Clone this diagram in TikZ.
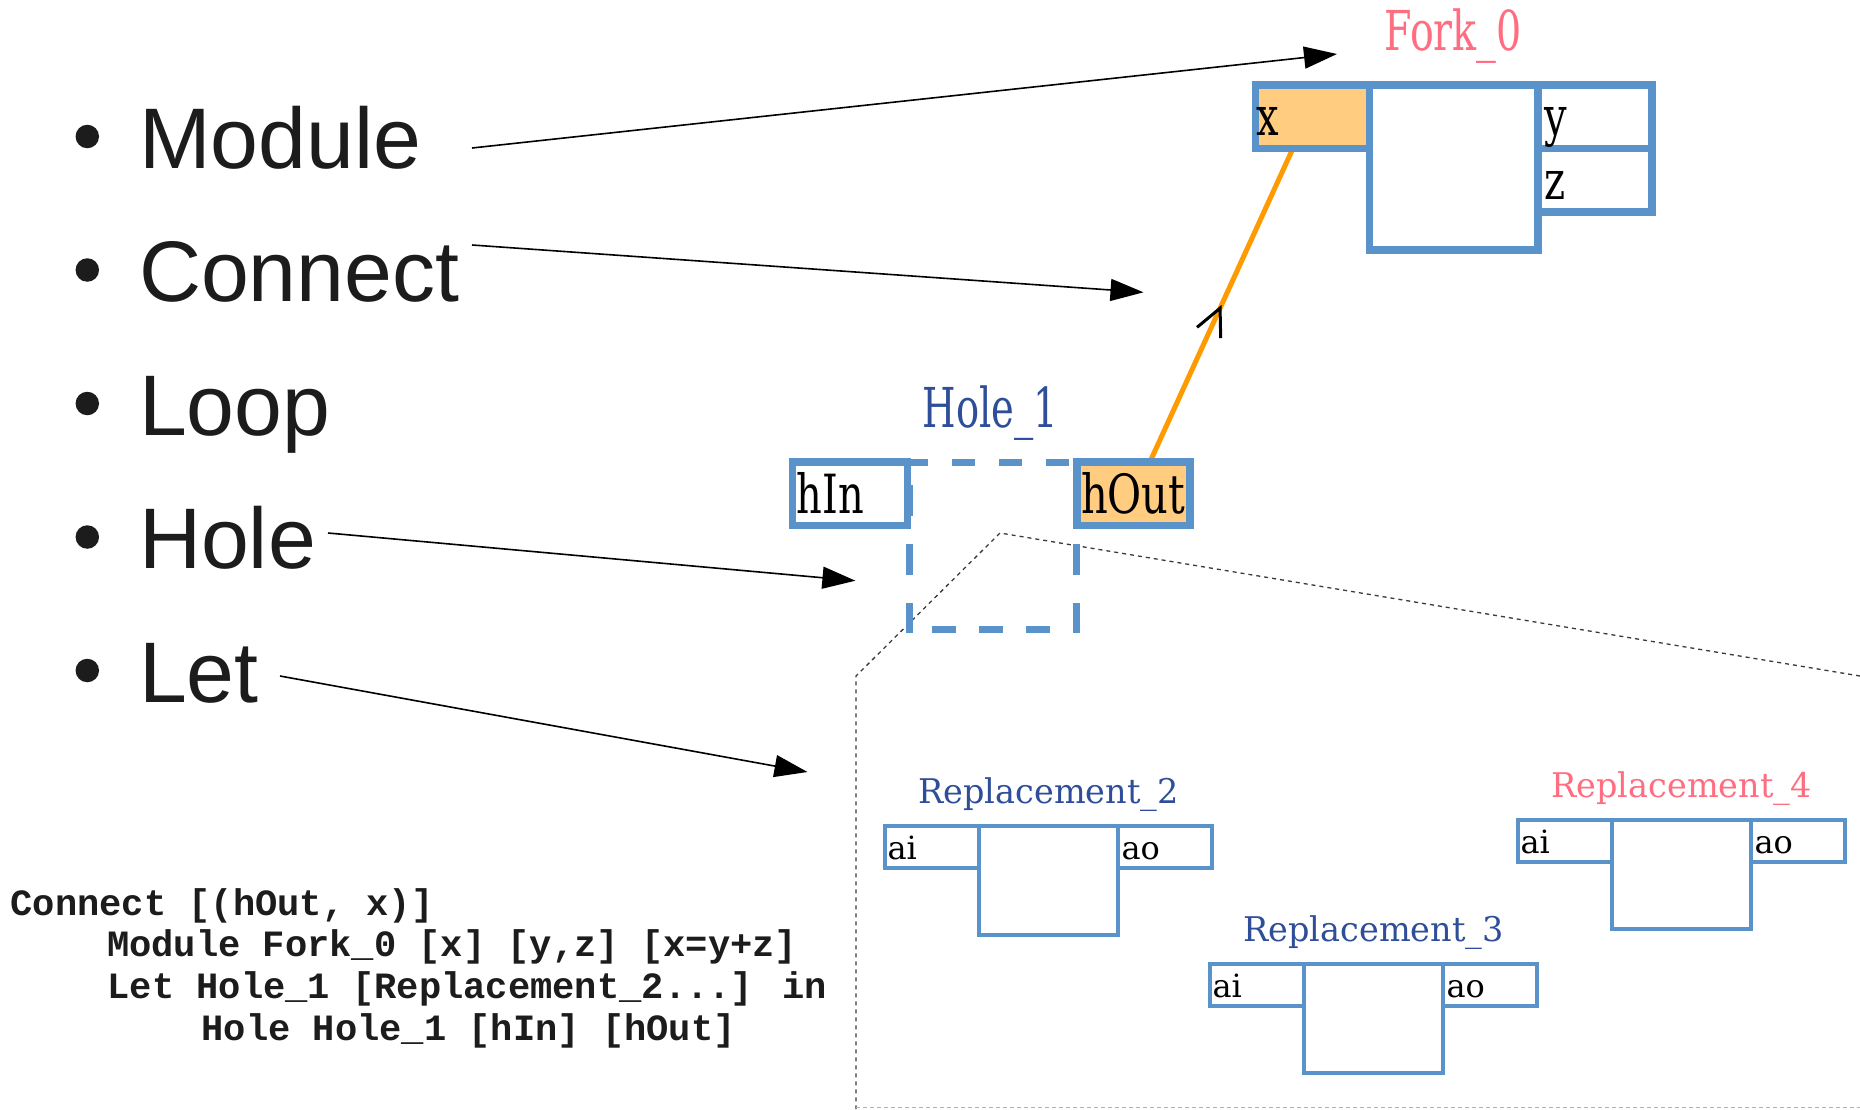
\documentclass[tikz,border=0pt]{standalone}
\usepackage{fontspec}
\usetikzlibrary{arrows.meta,decorations.markings}
\newfontfamily\bulletfont{Liberation Sans}
\newfontfamily\labelfont{DejaVu Serif}
\newfontfamily\codefont{Liberation Mono}

\definecolor{portblue}{HTML}{5A92CA}
\definecolor{portfill}{HTML}{FFCC80}
\definecolor{wirecol}{HTML}{FF9A00}
\definecolor{titlepink}{HTML}{FF6E80}
\definecolor{titlenavy}{HTML}{2E4E9A}
\definecolor{ink}{HTML}{1C1C1C}
\definecolor{zoomcol}{HTML}{3A3A3A}

\pgfdeclarelayer{background}
\pgfsetlayers{background,main}

\tikzset{
  pics/replacement/.style 2 args={code={
    \node[rport, anchor=north west] (-ai) at (0,0) {};
    \node[rbody, anchor=north west] (-body) at (-ai.north east) {};
    \node[rport, anchor=north west] (-ao) at (-body.north east) {};
    \node[rportlabel] (-ailabel) at ([shift={(2.5pt,8.5pt)}]-ai.south west) {ai};
    \node[rportlabel] (-aolabel) at ([shift={(3.5pt,8.5pt)}]-ao.south west) {ao};
    \node[rtitle, text=#2] (-title) at ([yshift=22.5pt]-body.north) {\scalebox{0.985}[1]{#1}};
  }}
}

\begin{document}
\begin{tikzpicture}[x=1pt, y=-1pt,
  every node/.style={inner sep=0pt, outer sep=0pt},
  bullettext/.style={anchor=base west, text=ink, font=\bulletfont\fontsize{86}{90}\selectfont},
  bulletdot/.style={circle, fill=ink, minimum size=23.5pt},
  codeline/.style={anchor=base west, text=ink, font=\codefont\bfseries\fontsize{37.1}{40}\selectfont},
  pointer/.style={draw=black, line width=1.6pt, -{Triangle[length=33pt,width=22pt]}},
  fport/.style={draw=portblue, fill=white, line width=7.5pt, minimum width=114pt, minimum height=63.5pt},
  fbody/.style={draw=portblue, fill=white, line width=7.5pt, minimum width=168.5pt, minimum height=165pt},
  holebox/.style={minimum width=167pt, minimum height=167pt},
  holeedge/.style={draw=portblue, line width=7pt},
  bigtitle/.style={anchor=base, font=\labelfont\fontsize{55}{60}\selectfont},
  biglabel/.style={anchor=base west, text=black, font=\labelfont\fontsize{54}{60}\selectfont},
  rport/.style={draw=portblue, fill=white, line width=4pt, minimum width=94pt, minimum height=42pt},
  rbody/.style={draw=portblue, fill=white, line width=4pt, minimum width=139pt, minimum height=108.5pt},
  rportlabel/.style={anchor=base west, text=black, font=\labelfont\fontsize{32}{34}\selectfont},
  rtitle/.style={anchor=base, font=\labelfont\fontsize{34}{38}\selectfont},
  zoomline/.style={draw=zoomcol, line width=1.3pt, dash pattern=on 4pt off 4pt},
  wireline/.style={draw=wirecol, line width=5pt}
]
\useasboundingbox (0,0) rectangle (1860,1109);

% bullet list
\node[bulletdot] (dot-module)  at (87.3,136.5) {};
\node[bulletdot] (dot-connect) at (87.3,270) {};
\node[bulletdot] (dot-loop)    at (87.3,403.5) {};
\node[bulletdot] (dot-hole)    at (87.3,537) {};
\node[bulletdot] (dot-let)     at (87.3,670.5) {};
\node[bullettext] (module)  at (139,168) {Module};
\node[bullettext] (connect) at (139,301.5) {Connect};
\node[bullettext] (loop)    at (139,435) {Loop};
\node[bullettext] (holeitem) at (139,568.5) {Hole};
\node[bullettext] (let)     at (139,702) {Let};

% code listing
\node[codeline] (code1) at (10.5,915.7) {Connect [(hOut, x)]};
\node[codeline] (code2) at (107,956) {Module Fork\_0 [x] [y,z] [x=y+z]};
\node[codeline] (code3) at (107.5,998.3) {Let Hole\_1 [Replacement\_2...] in};
\node[codeline] (code4) at (201.5,1040) {Hole Hole\_1 [hIn] [hOut]};

% module Fork_0
\node[bigtitle, text=titlepink] (forktitle) at (1453.3,50) {\scalebox{0.72}[1]{Fork\_0}};
\node[fport, fill=portfill] (fx) at (1312.5,116.5) {};
\node[fbody] (fbody) at (1453.75,167.5) {};
\node[fport] (fy) at (1595,116.5) {};
\node[fport] (fz) at (1595,180) {};
\node[biglabel] (fxlabel) at (1256.5,135) {\scalebox{0.74}[1]{x}};
\node[biglabel] (fylabel) at (1544.5,135) {\scalebox{0.74}[1]{y}};
\node[biglabel] (fzlabel) at (1544.5,199) {\scalebox{0.74}[1]{z}};

% hole Hole_1
\node[bigtitle, text=titlenavy] (holetitle) at (990.5,427) {\scalebox{0.70}[1]{Hole\_1}};
\node[fport, minimum width=115pt] (hin) at (850,493.5) {};
\node[fport, minimum width=113pt, fill=portfill] (hout) at (1133.5,493.5) {};
\node[holebox] (hole) at (992.5,545.5) {};
\draw[holeedge, dash pattern=on 23pt off 24pt, dash phase=4pt] (hole.north west) -- (hole.north east);
\draw[holeedge, dash pattern=on 24pt off 23pt, dash phase=24pt] (hole.south west) -- (hole.south east);
\draw[holeedge, dash pattern=on 31pt off 28pt, dash phase=36pt] (hole.north west) -- ([yshift=-3.5pt]hole.south west);
\draw[holeedge, dash pattern=on 31pt off 28pt, dash phase=36pt] (hole.north east) -- ([yshift=-3.5pt]hole.south east);
\node[biglabel] (hinlabel) at (796.5,513) {\scalebox{0.74}[1]{hIn}};
\node[biglabel] (houtlabel) at (1081,513) {\scalebox{0.77}[1]{hOut}};

% replacements
\pic (r2) at (885,826) {replacement={Replacement\_2}{titlenavy}};
\pic (r3) at (1210,964) {replacement={Replacement\_3}{titlenavy}};
\pic (r4) at (1518,820) {replacement={Replacement\_4}{titlepink}};

% page, zoom outline and the hOut -> x connection, under the boxes
\begin{pgfonlayer}{background}
  \fill[white] (0,0) rectangle (1860,1109);
  \coordinate (zoom-right) at (1860,676);
  \coordinate (zoom-apex) at (1000,533);
  \coordinate (zoom-corner) at (856,676);
  \coordinate (zoom-bottom) at (856,1109);
  \coordinate (frame-left) at (856,1107.5);
  \coordinate (frame-right) at (1860,1107.5);
  \draw[zoomline] (zoom-right) -- (zoom-apex) -- (zoom-corner) -- (zoom-bottom);
  \draw[draw=black!30, line width=1.2pt, dash pattern=on 4pt off 3pt] (frame-left) -- (frame-right);
  \draw[wireline, postaction={decorate}, decoration={markings,
      mark=at position 0.5 with {\arrow[black, line width=3pt]{Straight Barb[length=27pt,width=26pt]}}}]
    ([xshift=16.5pt]hout.north) -- ([xshift=-19.5pt]fx.south);
\end{pgfonlayer}

% pointers from the list
\coordinate (module-from) at (472,148);
\coordinate (module-to) at (1337,54);
\coordinate (connect-from) at (472,245);
\coordinate (connect-to) at (1143.5,292.3);
\coordinate (hole-from) at (328,533);
\coordinate (hole-to) at (855.4,580.7);
\coordinate (let-from) at (280,676);
\coordinate (let-to) at (807.5,772);
\draw[pointer] (module-from) -- (module-to);
\draw[pointer] (connect-from) -- (connect-to);
\draw[pointer] (hole-from) -- (hole-to);
\draw[pointer] (let-from) -- (let-to);
\end{tikzpicture}
\end{document}
